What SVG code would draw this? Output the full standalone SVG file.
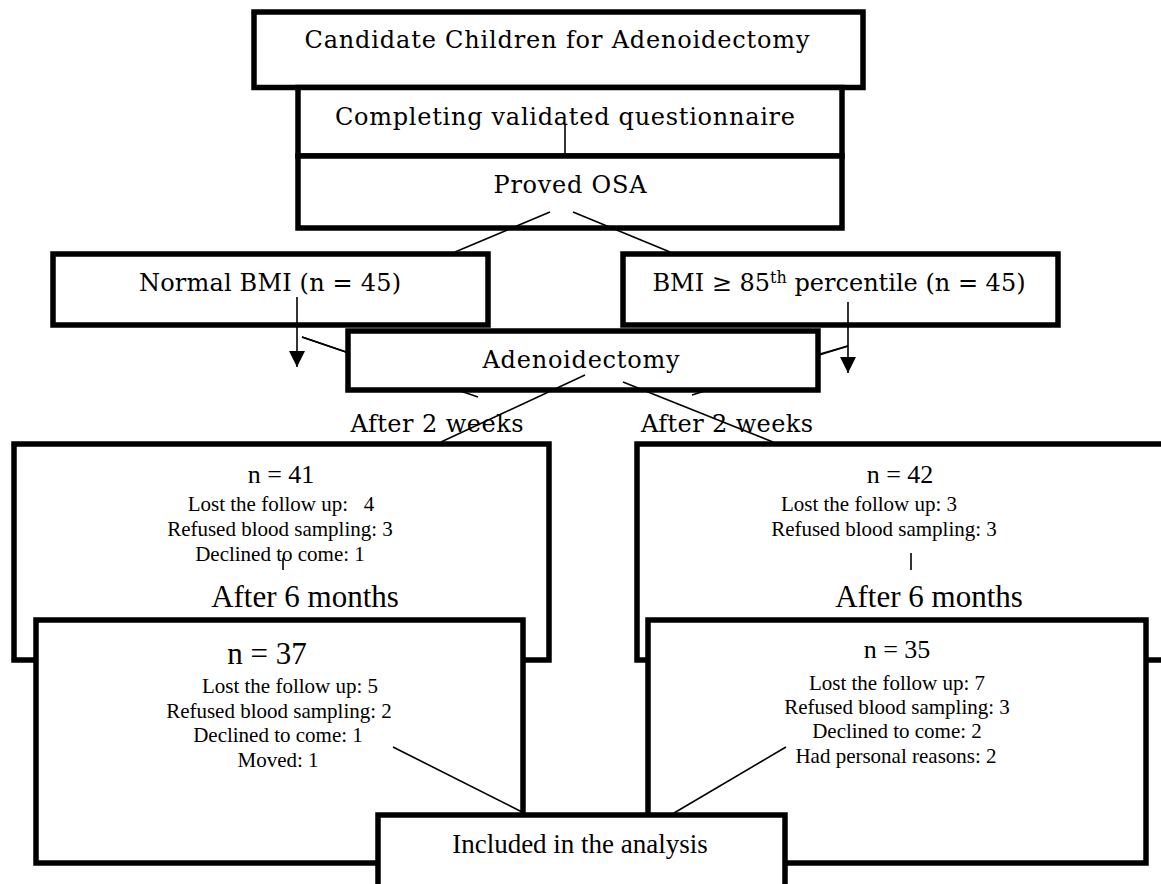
<svg xmlns="http://www.w3.org/2000/svg" width="1161" height="884" viewBox="0 0 1161 884">
<style>
.box{fill:#fff;stroke:#000;stroke-width:5.5}
.ln{fill:none;stroke:#000;stroke-width:1.6}
.bk{font-family:"DejaVu Serif","Liberation Serif",serif;font-size:24px;fill:#000;text-anchor:middle}
.tm{font-family:"Liberation Serif","Times New Roman",serif;font-size:21px;fill:#000;text-anchor:middle}
.tmL{font-family:"Liberation Serif","Times New Roman",serif;font-size:31px;fill:#000;text-anchor:middle}
.tmN{font-family:"Liberation Serif","Times New Roman",serif;fill:#000;text-anchor:middle}
</style>
<defs>
<marker id="ah" markerWidth="16" markerHeight="16" refX="16" refY="8" orient="auto" markerUnits="userSpaceOnUse" viewBox="0 0 16 16">
<path d="M0,0 L16,8 L0,16 Z" fill="#000"/>
</marker>
</defs>
<rect width="1161" height="884" fill="#fff"/>

<g id="node-candidate">
<rect class="box" x="254" y="12" width="609" height="75.5"/>
<text class="bk" x="557" y="48" textLength="505">Candidate Children for Adenoidectomy</text>
</g>
<g id="node-questionnaire">
<rect class="box" x="298" y="87.5" width="544" height="68.5"/>
<text class="bk" x="565" y="125" textLength="460">Completing validated questionnaire</text>
</g>
<g id="node-osa">
<rect class="box" x="298" y="156" width="544" height="72"/>
<text class="bk" x="570" y="193" textLength="153">Proved OSA</text>
</g>
<g id="node-normal">
<rect class="box" x="53" y="254" width="435" height="71"/>
<text class="bk" x="270" y="291" textLength="262">Normal BMI (n = 45)</text>
</g>
<g id="node-high">
<rect class="box" x="623" y="254" width="435" height="71"/>
<text class="bk" x="839" y="291">BMI ≥ 85<tspan style="font-size:16px" dy="-8">th</tspan><tspan dy="8"> percentile (n = 45)</tspan></text>
</g>

<g id="connectors-hidden">
<line class="ln" x1="302" y1="337" x2="478" y2="397"/>
<line class="ln" x1="848" y1="346" x2="692" y2="395"/>
</g>

<g id="node-adeno">
<rect class="box" x="348" y="331" width="470" height="59"/>
<text class="bk" x="581" y="368" textLength="197">Adenoidectomy</text>
</g>

<g id="labels-2weeks">
<text class="bk" x="437" y="432" textLength="173">After 2 weeks</text>
<text class="bk" x="727" y="432" textLength="172">After 2 weeks</text>
</g>

<g id="node-2w-left">
<rect class="box" x="14" y="444" width="535" height="216"/>
<text class="tmN" x="281" y="483" style="font-size:26px">n = 41</text>
<text class="tm" x="281" y="511" xml:space="preserve">Lost the follow up:   4</text>
<text class="tm" x="280" y="536">Refused blood sampling: 3</text>
<text class="tm" x="280" y="561">Declined to come: 1</text>
<text class="tmL" x="305" y="607">After 6 months</text>
</g>
<g id="node-2w-right">
<rect class="box" x="637" y="444" width="530" height="216"/>
<text class="tmN" x="900" y="483" style="font-size:26px">n = 42</text>
<text class="tm" x="869" y="511">Lost the follow up: 3</text>
<text class="tm" x="884" y="536">Refused blood sampling: 3</text>
<text class="tmL" x="929" y="607">After 6 months</text>
</g>

<g id="node-6m-left">
<rect class="box" x="36" y="620" width="487" height="243"/>
<text class="tmN" x="267" y="664" style="font-size:31px">n = 37</text>
<text class="tm" x="290" y="693">Lost the follow up: 5</text>
<text class="tm" x="279" y="718">Refused blood sampling: 2</text>
<text class="tm" x="278" y="742">Declined to come: 1</text>
<text class="tm" x="278" y="767">Moved: 1</text>
</g>
<g id="node-6m-right">
<rect class="box" x="648" y="620" width="498" height="243"/>
<text class="tmN" x="897" y="658" style="font-size:26px">n = 35</text>
<text class="tm" x="897" y="690">Lost the follow up: 7</text>
<text class="tm" x="897" y="714">Refused blood sampling: 3</text>
<text class="tm" x="897" y="738">Declined to come: 2</text>
<text class="tm" x="896" y="763">Had personal reasons: 2</text>
</g>

<g id="node-included">
<rect class="box" x="378" y="815" width="407" height="90"/>
<text class="tmN" x="580" y="853" style="font-size:27px">Included in the analysis</text>
</g>

<g id="connectors">
<line class="ln" x1="565" y1="125" x2="565" y2="155"/>
<line class="ln" x1="550" y1="212" x2="455" y2="252"/>
<line class="ln" x1="573" y1="212" x2="670" y2="252"/>
<line class="ln" x1="297" y1="297" x2="297" y2="367" marker-end="url(#ah)"/>
<line class="ln" x1="848" y1="302" x2="848" y2="373" marker-end="url(#ah)"/>
<line class="ln" x1="302" y1="337" x2="346" y2="352"/>
<line class="ln" x1="848" y1="346" x2="820" y2="354"/>
<line class="ln" x1="585" y1="375" x2="441" y2="442"/>
<line class="ln" x1="623" y1="382" x2="773" y2="442"/>
<line class="ln" x1="283" y1="558" x2="283" y2="570"/>
<line class="ln" x1="911" y1="553" x2="911" y2="570"/>
<line class="ln" x1="393" y1="747" x2="524" y2="813"/>
<line class="ln" x1="786" y1="747" x2="674" y2="813"/>
</g>
</svg>
